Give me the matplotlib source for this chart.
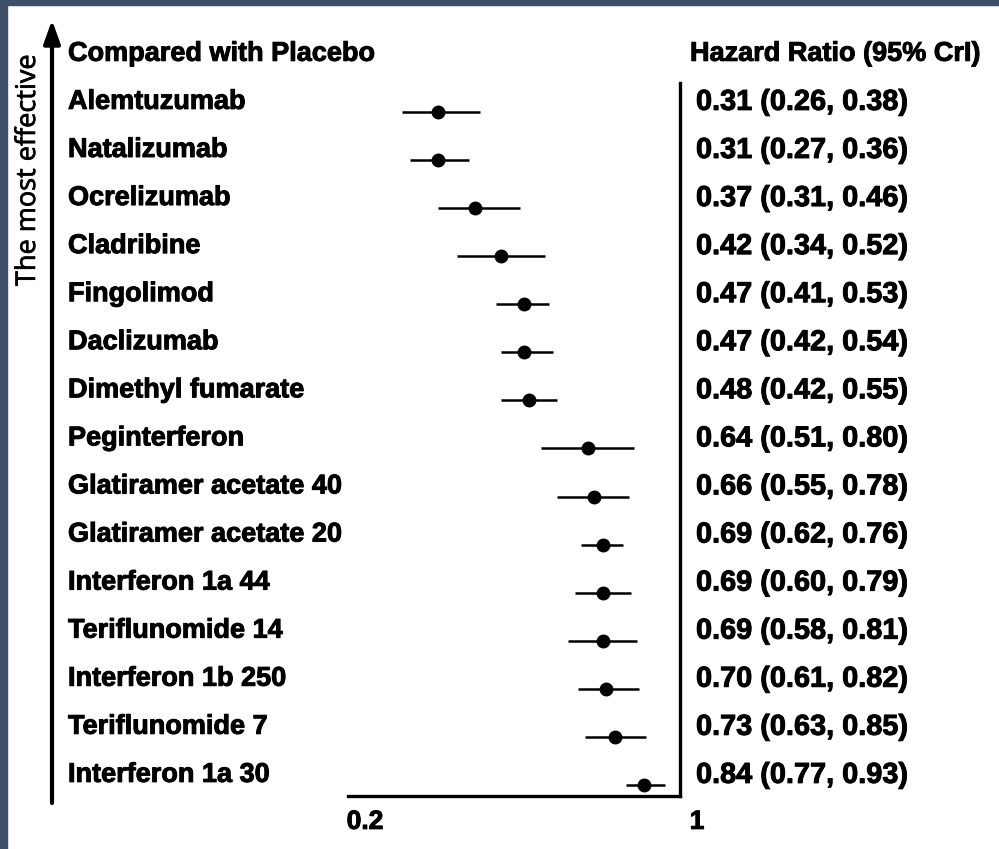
import numpy as np
import matplotlib.pyplot as plt
import matplotlib.transforms as mtransforms
import matplotlib.patheffects as pe
from matplotlib.patches import Rectangle

treatments = ["Alemtuzumab", "Natalizumab", "Ocrelizumab", "Cladribine", "Fingolimod",
              "Daclizumab", "Dimethyl fumarate", "Peginterferon", "Glatiramer acetate 40",
              "Glatiramer acetate 20", "Interferon 1a 44", "Teriflunomide 14",
              "Interferon 1b 250", "Teriflunomide 7", "Interferon 1a 30"]
hr = [0.31, 0.31, 0.37, 0.42, 0.47, 0.47, 0.48, 0.64, 0.66, 0.69, 0.69, 0.69, 0.70, 0.73, 0.84]
lo = [0.26, 0.27, 0.31, 0.34, 0.41, 0.42, 0.42, 0.51, 0.55, 0.62, 0.60, 0.58, 0.61, 0.63, 0.77]
hi = [0.38, 0.36, 0.46, 0.52, 0.53, 0.54, 0.55, 0.80, 0.78, 0.76, 0.79, 0.81, 0.82, 0.85, 0.93]
xticks = [0.2, 1]
xticklabels = ["0.2", "1"]

W, H = 999, 849
fig = plt.figure(figsize=(W / 100, H / 100), dpi=100)
font = "Liberation Sans"
thick = [pe.withStroke(linewidth=0.7, foreground="black")]

# axes placed in pixel terms
ax = fig.add_axes([348 / W, (H - 796) / H, (680 - 348) / W, (796 - 83) / H])
y = -np.arange(len(treatments))
hr_a = np.array(hr)
ax.errorbar(hr_a, y, xerr=[hr_a - np.array(lo), np.array(hi) - hr_a], fmt="o",
            color="black", ms=9, elinewidth=1.8, capsize=0)
ax.set_xscale("log")
ax.set_xlim(0.2, 1.0)
ax.set_ylim(-14.229, 0.603)
ax.set_yticks([])
ax.set_xticks(xticks)
ax.set_xticks([], minor=True)
ax.set_xticklabels(xticklabels, fontsize=19, fontweight="bold", family=font)
ax.tick_params(axis="x", length=0, pad=10)
offset = mtransforms.ScaledTranslation(17 / 100, 0, fig.dpi_scale_trans)
for lab in ax.get_xticklabels():
    lab.set_transform(lab.get_transform() + offset)
    lab.set_path_effects(thick)
for s in ["left", "top"]:
    ax.spines[s].set_visible(False)
for s in ["right", "bottom"]:
    ax.spines[s].set_linewidth(2.4)

# row text sits a little above the marker row
lift = 0.21
lab_tr = mtransforms.blended_transform_factory(fig.transFigure, ax.transData)
for yi, name, h, l, u in zip(y, treatments, hr, lo, hi):
    ax.text(68 / W, yi + lift, name, transform=lab_tr, fontsize=19.5, fontweight="bold",
            family=font, va="center", ha="left", clip_on=False, path_effects=thick)
    ax.text(696 / W, yi + lift, f"{h:.2f} ({l:.2f}, {u:.2f})", transform=lab_tr,
            fontsize=20.8, fontweight="bold", family=font, va="center", ha="left",
            clip_on=False, path_effects=thick)
ax.text(68 / W, 1.21, "Compared with Placebo", transform=lab_tr, fontsize=19.5,
        fontweight="bold", family=font, va="center", ha="left", clip_on=False,
        path_effects=thick)
ax.text(690 / W, 1.21, "Hazard Ratio (95% CrI)", transform=lab_tr, fontsize=19.5,
        fontweight="bold", family=font, va="center", ha="left", clip_on=False,
        path_effects=thick)

# arrow and rotated caption
ax.annotate("", xy=(52 / W, (H - 20) / H), xytext=(52 / W, (H - 803) / H),
            xycoords="figure fraction", textcoords="figure fraction",
            arrowprops=dict(arrowstyle="-|>,head_length=1.4,head_width=0.5",
                            color="black", lw=3, shrinkA=0, shrinkB=0))
fig.text(28 / W, (H - 170) / H, "The most effective", rotation=90, fontsize=19.5,
         family="Open Sans", va="center", ha="center",
         path_effects=[pe.withStroke(linewidth=0.5, foreground="black")])

# dark frame on top and left edges
fig.patches.append(Rectangle((0, 1 - 5 / H), 1, 5 / H, transform=fig.transFigure,
                             color="#3c4f66", zorder=10))
fig.patches.append(Rectangle((0, 0), 7 / W, 1, transform=fig.transFigure,
                             color="#3c4f66", zorder=10))

plt.savefig("out.png", dpi=100)
